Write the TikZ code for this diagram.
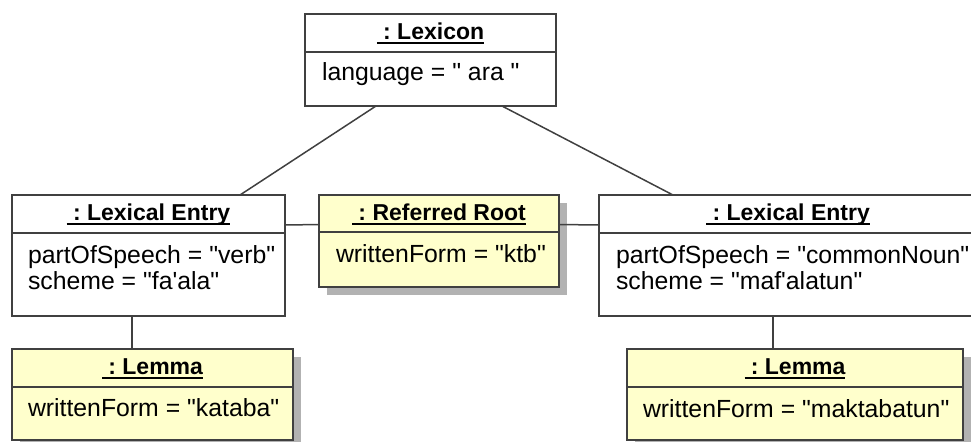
\documentclass[tikz,border=0pt]{standalone}
\usepackage{fontspec}
\setmainfont{Liberation Sans}[Ligatures=TeXOff]
\usepackage{tikz}
\usetikzlibrary{positioning, shadows}
\definecolor{umlline}{RGB}{64, 64, 64}
\definecolor{umlnote}{RGB}{255, 255, 204}
\definecolor{umlshade}{RGB}{178, 178, 178}
\newcommand{\objname}[1]{\setbox0\hbox{\ #1}\rlap{\rule[-2.25pt]{\wd0}{1pt}}\box0}
\frenchspacing

\begin{document}
\begin{tikzpicture}[
  x=0.5pt, y=-0.5pt,
  every node/.style={outer sep=0pt},
  hdr/.style={draw=umlline, line width=0.75pt, fill=white, minimum height=19pt,
    text height=8.75pt, text depth=2.25pt, inner sep=0pt,
    font=\fontsize{11.5}{13}\selectfont\bfseries},
  bdy/.style={draw=umlline, line width=0.75pt, fill=white, inner sep=0pt},
  note/.style={fill=umlnote, drop shadow={shadow xshift=4pt, shadow yshift=-4pt,
    fill=umlshade, opacity=1}},
  attr/.style={anchor=base west, align=left, inner sep=0pt,
    font=\fontsize{12.4}{13}\selectfont},
  link/.style={draw=umlline, line width=0.75pt}
]
\useasboundingbox (0,0) rectangle (971,441);
\clip (0,0) rectangle (971,441);

% lexicon
\node[hdr, minimum width=125.5pt, anchor=north west] (lexh) at (305,14) {\objname{: Lexicon}};
\node[bdy, minimum width=125.5pt, minimum height=27pt, below=0pt of lexh] (lexb) {};
\node[attr] (lext) at ([shift={(8.5pt,-14pt)}]lexb.north west) {language = " ara "};

% left entry (base of a two-line node is its last line)
\node[hdr, minimum width=136.5pt, anchor=north west] (lelh) at (12,195) {\objname{: Lexical Entry}};
\node[bdy, minimum width=136.5pt, minimum height=41.5pt, below=0pt of lelh] (lelb) {};
\node[attr] (lelt) at ([shift={(8pt,-28pt)}]lelb.north west) {partOfSpeech = "verb"\\scheme = "fa'ala"};

% root
\node[hdr, note, minimum width=120pt, minimum height=18.5pt, anchor=north west] (rooth) at (319,195) {\objname{: Referred Root}};
\node[bdy, note, minimum width=120pt, minimum height=27.5pt, below=0pt of rooth] (rootb) {};
\node[attr] (roott) at ([shift={(8.5pt,-15pt)}]rootb.north west) {writtenForm = "ktb"};

% right entry
\node[hdr, minimum width=200pt, anchor=north west] (relh) at (599,195) {\hspace*{-11pt}\objname{: Lexical Entry}};
\node[bdy, minimum width=200pt, minimum height=41.5pt, below=0pt of relh] (relb) {};
\node[attr] (relt) at ([shift={(8.5pt,-28pt)}]relb.north west) {partOfSpeech = "commonNoun"\\scheme = "maf'alatun"};

% lemmas
\node[hdr, note, minimum width=140.5pt, anchor=north west] (llemh) at (12,349) {\objname{: Lemma}};
\node[bdy, note, minimum width=140.5pt, minimum height=26.5pt, below=0pt of llemh] (llemb) {};
\node[attr] (llemt) at ([shift={(8pt,-14.5pt)}]llemb.north west) {writtenForm = "kataba"};

\node[hdr, note, minimum width=168pt, anchor=north west] (rlemh) at (627,349) {\objname{: Lemma}};
\node[bdy, note, minimum width=168pt, minimum height=26.5pt, below=0pt of rlemh] (rlemb) {};
\node[attr] (rlemt) at ([shift={(8pt,-15pt)}]rlemb.north west) {writtenForm = "maktabatun"};

% links
\draw[link] ([xshift=35.5pt]lexb.south west) -- ([xshift=114pt]lelh.north west);
\draw[link] ([xshift=-27pt]lexb.south east) -- ([xshift=37pt]relh.north west);
\draw[link] ([yshift=-5.5pt]lelh.east) -- ([yshift=-5.5pt]rooth.west);
\draw[link] ([yshift=-5.5pt]rooth.east) -- ([yshift=-5.5pt]relh.west);
\draw[link] ([xshift=60pt]lelb.south west) -- ([xshift=60pt]lelb.south west |- llemh.north);
\draw[link] ([xshift=87pt]relb.south west) -- ([xshift=87pt]relb.south west |- rlemh.north);
\end{tikzpicture}
\end{document}
